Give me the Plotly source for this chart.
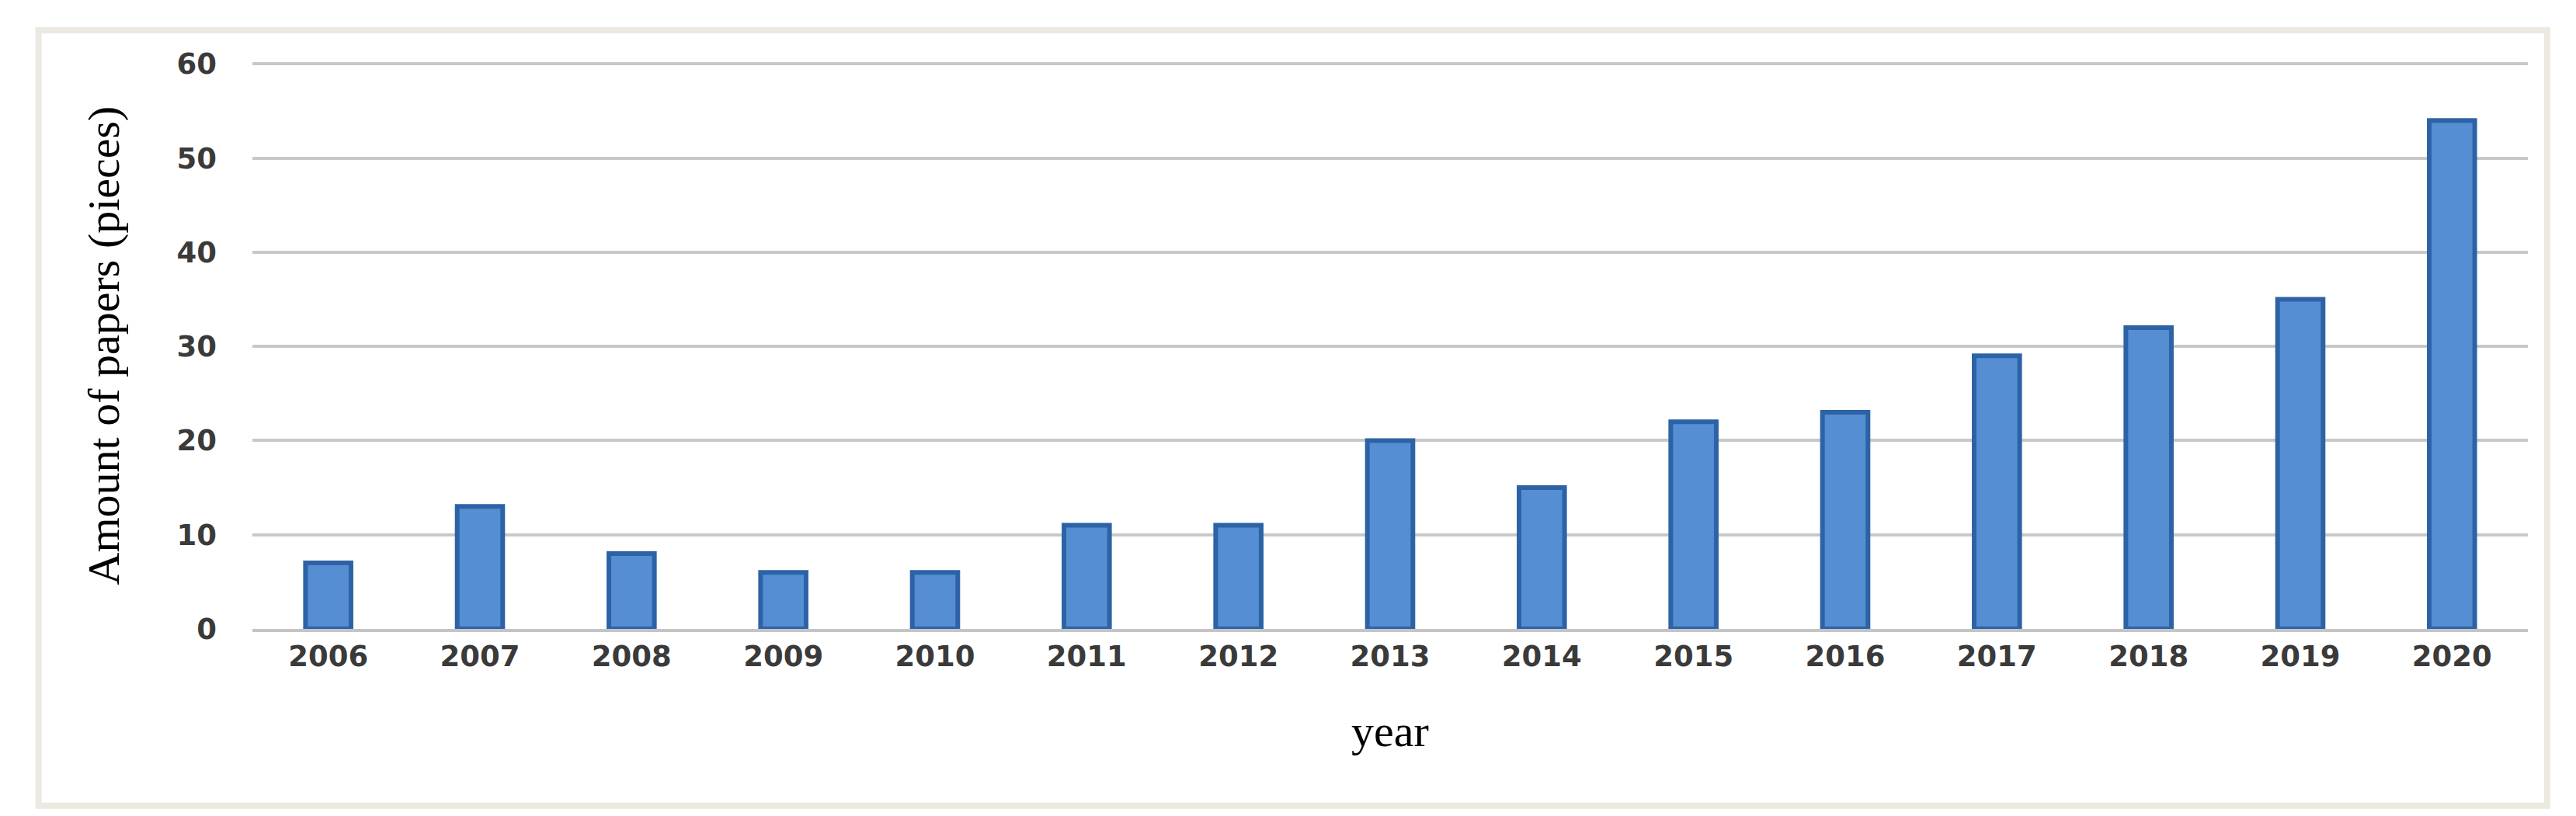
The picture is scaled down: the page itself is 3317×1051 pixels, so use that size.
import plotly.graph_objects as go

years = [str(y) for y in range(2006, 2021)]
papers = [7, 13, 8, 6, 6, 11, 11, 20, 15, 22, 23, 29, 32, 35, 54]
y_ticks = [0, 10, 20, 30, 40, 50, 60]

fig = go.Figure(go.Bar(
    x=years, y=papers, width=0.3,
    marker=dict(color="#568ED4", line=dict(color="#2D63A6", width=6)),
))

tick_font = dict(family="DejaVu Sans", size=37, color="#3A3A3A", weight="bold")
title_font = dict(family="Liberation Serif", size=58, color="black")

fig.update_layout(
    width=3317, height=1051,
    margin=dict(l=317, r=70, t=72, b=249),
    paper_bgcolor="white", plot_bgcolor="white",
    showlegend=False,
)
fig.update_xaxes(
    type="category", showgrid=False, showline=True, linecolor="#C4C4C4", linewidth=4,
    tickfont=tick_font, ticks="",
    title=dict(text="year", font=title_font, standoff=55),
)
fig.update_yaxes(
    range=[0, 60.2], tickvals=y_ticks, showgrid=True, gridcolor="#C8C8C8", gridwidth=4,
    zeroline=False, tickfont=tick_font, ticks="", ticklabelstandoff=45,
    title=dict(text="Amount of papers (pieces)", font=title_font, standoff=55),
)
fig.add_shape(type="rect", xref="paper", yref="paper",
              x0=-0.094, x1=1.0085, y0=-0.312, y1=1.056,
              line=dict(color="#ECEAE0", width=8))

fig.write_html("out.html")
